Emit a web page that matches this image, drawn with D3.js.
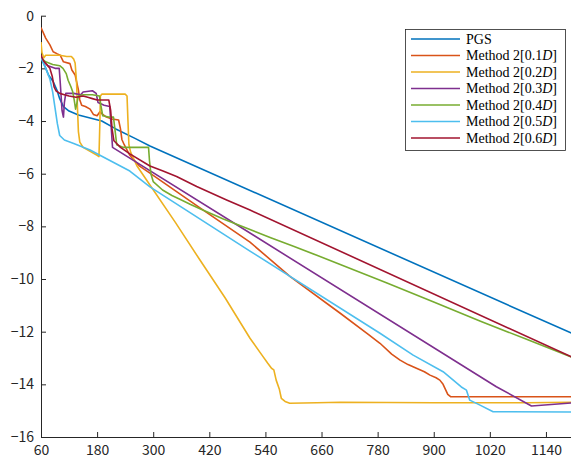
<!DOCTYPE html>
<html><head><meta charset="utf-8">
<script src="https://cdn.jsdelivr.net/npm/d3@7"></script>
<style>body{margin:0;background:#fff}svg{display:block}</style>
</head><body>
<svg id="c" width="571" height="460"></svg>
<script>
const xTicks = [60,180,300,420,540,660,780,900,1020,1140];
const yTicks = [0,-2,-4,-6,-8,-10,-12,-14,-16];
const seriesNames = ["PGS","Method 2[0.1","Method 2[0.2","Method 2[0.3","Method 2[0.4","Method 2[0.5","Method 2[0.6"];
const colors = ["#0072BD","#D95319","#EDB120","#7E2F8E","#77AC30","#4DBEEE","#A2142F"];

const pgs = [[60,-1.6],[69,-1.94],[76,-2.25],[86,-2.5],[94,-2.82],[100,-3.15],[108,-3.45],[120,-3.62],[140,-3.77],[190,-4.0],[220,-4.3],[261,-4.66],[293,-4.95],[1200,-12.1]];
const m01 = [[60,-0.45],[70,-0.85],[79,-1.11],[86,-1.37],[95,-1.45],[101,-1.5],[108,-1.75],[122,-1.82],[126,-2.06],[133,-2.25],[136,-2.5],[140,-2.82],[143,-3.2],[147,-3.4],[155,-3.45],[165,-3.55],[172,-3.75],[180,-3.8],[186,-3.65],[192,-3.75],[200,-3.85],[212,-3.92],[226,-3.96],[230,-4.3],[233,-4.7],[238,-4.9],[250,-5.3],[270,-5.7],[293,-5.98],[400,-7.3],[507,-8.6],[593,-9.91],[700,-11.3],[760,-12.1],[785,-12.44],[810,-12.85],[828,-13.08],[845,-13.25],[863,-13.39],[880,-13.52],[892,-13.65],[905,-13.75],[913,-13.84],[920,-14.0],[924,-14.15],[930,-14.38],[936,-14.47],[1200,-14.47]];
const m02 = [[60,-1.0],[62,-1.4],[66,-1.6],[70,-1.5],[100,-1.5],[115,-1.55],[125,-1.55],[130,-1.65],[133,-1.8],[136,-2.5],[138,-3.5],[140,-4.4],[143,-4.8],[150,-5.0],[165,-5.15],[180,-5.3],[184,-5.35],[186,-4.0],[187,-3.05],[190,-2.98],[240,-2.98],[244,-3.05],[246,-4.0],[248,-4.9],[252,-5.2],[265,-5.7],[293,-6.43],[347,-7.84],[400,-9.28],[454,-10.72],[507,-12.25],[533,-12.9],[545,-13.2],[553,-13.39],[558,-13.45],[563,-13.84],[570,-14.2],[574,-14.53],[582,-14.65],[592,-14.72],[650,-14.7],[700,-14.68],[800,-14.69],[900,-14.7],[1000,-14.7],[1100,-14.7],[1200,-14.68]];
const m03 = [[60,-1.6],[66,-1.75],[75,-1.9],[90,-2.0],[99,-2.0],[101,-2.5],[105,-3.6],[108,-3.85],[110,-3.3],[113,-2.95],[130,-2.95],[145,-3.0],[150,-2.9],[170,-2.85],[178,-2.95],[182,-3.3],[195,-3.4],[207,-3.45],[210,-4.2],[213,-5.0],[1034,-14.09],[1109,-14.82],[1200,-14.7]];
const m04 = [[60,-1.6],[70,-1.75],[85,-1.85],[100,-1.9],[107,-2.0],[114,-2.2],[118,-2.45],[124,-2.7],[128,-2.9],[131,-3.2],[134,-3.55],[137,-3.3],[140,-3.05],[150,-3.0],[170,-3.0],[185,-3.05],[188,-3.4],[192,-3.8],[205,-3.85],[215,-3.85],[218,-4.3],[222,-4.9],[235,-5.0],[290,-5.0],[292,-5.5],[295,-6.0],[300,-6.3],[320,-6.62],[340,-6.83],[357,-6.97],[380,-7.17],[400,-7.33],[450,-7.72],[507,-8.12],[550,-8.42],[600,-8.76],[650,-9.1],[700,-9.45],[800,-10.15],[900,-10.87],[1000,-11.6],[1100,-12.3],[1200,-13.0]];
const m05 = [[60,-1.6],[70,-2.0],[79,-2.4],[85,-2.9],[90,-3.5],[95,-4.1],[100,-4.55],[110,-4.72],[130,-4.85],[165,-5.1],[186,-5.3],[250,-5.9],[293,-6.5],[507,-8.94],[785,-12.06],[856,-12.89],[920,-13.52],[959,-14.1],[970,-14.22],[977,-14.6],[999,-14.79],[1027,-15.04],[1200,-15.05]];
const m06 = [[60,-1.5],[65,-1.7],[72,-1.85],[79,-2.0],[84,-2.3],[88,-2.7],[92,-2.85],[100,-2.95],[110,-3.0],[120,-3.05],[135,-3.1],[150,-3.05],[160,-3.1],[170,-3.15],[180,-3.2],[205,-3.2],[209,-3.6],[212,-4.3],[216,-4.75],[230,-5.0],[250,-5.25],[293,-5.71],[321,-5.9],[350,-6.11],[393,-6.49],[457,-7.0],[507,-7.38],[1200,-13.0]];
const allSeries = [pgs,m01,m02,m03,m04,m05,m06];

const svg = d3.select("#c");
const x = d3.scaleLinear().domain([60,1200]).range([41,574]);
const y = d3.scaleLinear().domain([-16,0]).range([437,15.7]);
const axisColor = "#262626";
const tickFont = "'Noto Sans CJK JP','Noto Sans',sans-serif";

svg.append("defs").append("clipPath").attr("id","clip").append("rect")
  .attr("x",41).attr("y",15).attr("width",540).attr("height",423);

const fmt = d3.format("d");
const gy = svg.append("g").attr("transform","translate(41,0)")
  .call(d3.axisLeft(y).tickValues(yTicks).tickFormat(fmt).tickSizeInner(-5).tickSizeOuter(0).tickPadding(7));
const gx = svg.append("g").attr("transform","translate(0,437)")
  .call(d3.axisBottom(x).tickValues(xTicks).tickFormat(fmt).tickSizeInner(-5).tickSizeOuter(0).tickPadding(8));
[gx,gy].forEach(g=>{
  g.select(".domain").attr("stroke",axisColor).attr("stroke-width",1);
  g.selectAll(".tick line").attr("stroke",axisColor);
  g.selectAll(".tick text").attr("fill",axisColor).style("font-family",tickFont).style("font-size","14px");
});

const line = d3.line().x(d=>x(d[0])).y(d=>y(d[1]));
const plot = svg.append("g").attr("clip-path","url(#clip)");
allSeries.forEach((s,i)=>{
  plot.append("path").datum(s).attr("d",line).attr("fill","none")
    .attr("stroke",colors[i]).attr("stroke-width",1.6).attr("stroke-linejoin","round");
});

// legend
const lg = svg.append("g");
lg.append("rect").attr("x",405.5).attr("y",29.5).attr("width",160).attr("height",121)
  .attr("fill","#fff").attr("stroke",axisColor).attr("stroke-width",0.8);
seriesNames.forEach((n,i)=>{
  const yy = 39 + i*16.5;
  lg.append("line").attr("x1",411).attr("x2",460).attr("y1",yy).attr("y2",yy)
    .attr("stroke",colors[i]).attr("stroke-width",1.6);
  const t = lg.append("text").attr("x",466).attr("y",yy).attr("dy","0.35em")
    .style("font-family","'Liberation Serif','DejaVu Serif',serif").style("font-size","14px").attr("fill","#000");
  t.append("tspan").text(n);
  if(i>0){
    t.append("tspan").style("font-style","italic").text("D");
    t.append("tspan").text("]");
  }
});
</script>
</body></html>
